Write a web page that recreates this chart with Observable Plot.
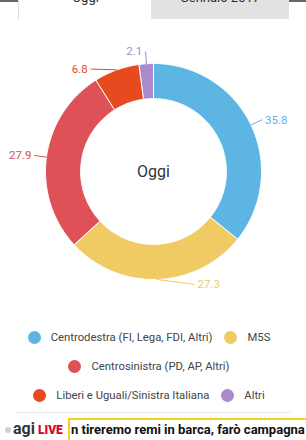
<!DOCTYPE html>
<html><head><meta charset="utf-8">
<script src="https://cdn.jsdelivr.net/npm/d3@7"></script>
<script src="https://cdn.jsdelivr.net/npm/@observablehq/plot@0.6"></script>
<style>
body{margin:0;width:306px;height:440px;overflow:hidden;background:#fff;font-family:Roboto,sans-serif;position:relative}
#topbar{position:absolute;left:0;top:0;width:306px;height:2px;background:#666}
.tab{position:absolute;top:0;height:19px;overflow:hidden;text-align:center;font-size:13px;color:#333}
.tab span{position:absolute;left:0;right:0;top:-9px;line-height:13px}
#tab0{left:18px;width:133px;border-left:1px solid #ddd;background:#fff}
#tab1{left:151px;width:138px;background:#e2e2e2}
#chart{position:absolute;left:0;top:30px}
#legend{position:absolute;left:0;top:329px;width:298px;display:flex;flex-wrap:wrap;justify-content:center;row-gap:13px;font-size:11.3px;color:#444}
.item{display:flex;align-items:center;height:16px;margin:0 6px}
.dot{width:13px;height:13px;border-radius:50%;margin-right:10px}
#sep{position:absolute;left:15px;top:412px;width:276px;height:1px;background:#e6e6e6}
#tdot{position:absolute;left:5px;top:427px;width:6px;height:6px;border-radius:50%;background:#d0d0d0}
#agi{position:absolute;left:13px;top:420px;font-size:16px;font-weight:bold;color:#333;line-height:18px}
#live{position:absolute;left:38px;top:423px;font-size:12px;font-weight:900;color:#e0001b;line-height:14px}
#box{position:absolute;left:68px;top:418px;width:250px;height:20px;border:2px solid #f3d21c;background:#fff;overflow:hidden;white-space:nowrap;font-size:13px;font-weight:bold;color:#111;line-height:20px;padding-left:1px}
</style></head><body>
<div id="topbar"></div>
<div class="tab" id="tab0"><span></span></div>
<div class="tab" id="tab1"><span></span></div>
<div id="chart"></div>
<div id="legend"></div>
<div id="sep"></div>
<div id="tdot"></div>
<div id="agi">agi</div>
<div id="live">LIVE</div>
<div id="box"></div>
<script>
const parties = ["Centrodestra (FI, Lega, FDI, Altri)", "M5S", "Centrosinistra (PD, AP, Altri)", "Liberi e Uguali/Sinistra Italiana", "Altri"];
const values = [35.8, 27.3, 27.9, 6.8, 2.1];
const colors = ["#5cb5e3", "#f0cb63", "#dd5157", "#e64a1f", "#a98bcb"];
const centerTitle = "Oggi";
const tabs = ["Oggi", "Gennaio 2017"];
const tickerText = "n tireremo remi in barca, farò campagna p";

document.querySelector("#tab0 span").textContent = tabs[0];
document.querySelector("#tab1 span").textContent = tabs[1];
document.getElementById("box").textContent = tickerText;

const total = d3.sum(values);
const inner = 0.675;
const dist = 0.111;
const step = Math.PI / 180;

// ring polygons
const ring = [];
const labels = [];
let cum = 0;
values.forEach((v, i) => {
  const a0 = cum / total * 2 * Math.PI;
  cum += v;
  const a1 = cum / total * 2 * Math.PI;
  const n = Math.max(2, Math.ceil((a1 - a0) / step));
  for (let j = 0; j <= n; j++) {
    const a = a0 + (a1 - a0) * j / n;
    ring.push({p: parties[i], x: Math.sin(a), y: Math.cos(a)});
  }
  for (let j = n; j >= 0; j--) {
    const a = a0 + (a1 - a0) * j / n;
    ring.push({p: parties[i], x: inner * Math.sin(a), y: inner * Math.cos(a)});
  }
  const m = (a0 + a1) / 2;
  labels.push({p: parties[i], v, m, side: Math.sin(m) >= 0 ? 1 : -1,
    ax: Math.sin(m), ay: Math.cos(m), yl: (1 + dist) * Math.cos(m)});
});

// simple label distribution per side
const gap = 0.16;
for (const s of [1, -1]) {
  const grp = labels.filter(d => d.side === s).sort((a, b) => b.yl - a.yl);
  grp.forEach((d, k) => { if (k > 0 && d.yl > grp[k - 1].yl - gap) d.yl = grp[k - 1].yl - gap; });
}
labels.forEach(d => {
  d.yl = Math.max(-1.045, Math.min(1.12, d.yl));
  d.xc = d.side * Math.sqrt(Math.max(0, (1 + dist) ** 2 - d.yl ** 2));
  d.tx = d.xc + d.side * 0.03;
  d.t = d.v.toFixed(1);
});
const conn = labels.flatMap(d => [
  {p: d.p, x: d.ax, y: d.ay},
  {p: d.p, x: d.xc, y: d.yl}
]);

const cx = 153, cy = 141, R = 108;
const chart = Plot.plot({
  width: 306, height: 280, margin: 0,
  style: {fontFamily: "Roboto, sans-serif", background: "transparent"},
  x: {domain: [-1, 1], range: [cx - R, cx + R], axis: null},
  y: {domain: [-1, 1], range: [cy + R, cy - R], axis: null},
  color: {domain: parties, range: colors},
  marks: [
    Plot.line(ring, {x: "x", y: "y", z: "p", fill: "p", stroke: "white", strokeWidth: 1, curve: "linear-closed"}),
    Plot.line(conn, {x: "x", y: "y", z: "p", stroke: "p", strokeWidth: 1}),
    Plot.text(labels.filter(d => d.side > 0), {x: "tx", y: "yl", text: "t", fill: "p", textAnchor: "start", fontSize: 11.5}),
    Plot.text(labels.filter(d => d.side < 0), {x: "tx", y: "yl", text: "t", fill: "p", textAnchor: "end", fontSize: 11.5}),
    Plot.text([centerTitle], {x: () => 0, y: () => 0, text: d => d, fontSize: 16, fill: "#333"})
  ]
});
document.getElementById("chart").appendChild(chart);

const legend = document.getElementById("legend");
parties.forEach((p, i) => {
  const it = document.createElement("div");
  it.className = "item";
  const dot = document.createElement("span");
  dot.className = "dot";
  dot.style.background = colors[i];
  const t = document.createElement("span");
  t.textContent = p;
  it.appendChild(dot); it.appendChild(t);
  legend.appendChild(it);
});
</script>
</body></html>
